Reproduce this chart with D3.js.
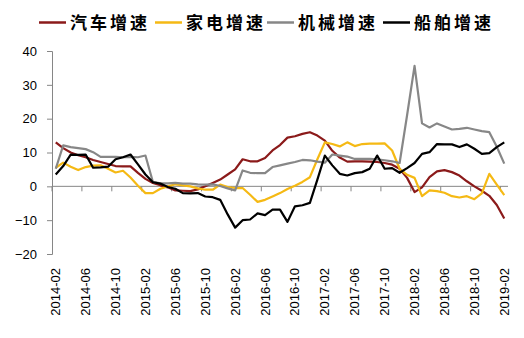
<!DOCTYPE html>
<html><head><meta charset="utf-8">
<script src="https://cdn.jsdelivr.net/npm/d3@7"></script>
<style>
html,body{margin:0;padding:0;background:#fff;}
svg{display:block;}
</style></head>
<body>
<svg id="chart" width="524" height="338"></svg>
<script>
const categories = [
"2014-02","2014-03","2014-04","2014-05","2014-06","2014-07","2014-08","2014-09","2014-10","2014-11","2014-12",
"2015-01","2015-02","2015-03","2015-04","2015-05","2015-06","2015-07","2015-08","2015-09","2015-10","2015-11","2015-12",
"2016-01","2016-02","2016-03","2016-04","2016-05","2016-06","2016-07","2016-08","2016-09","2016-10","2016-11","2016-12",
"2017-01","2017-02","2017-03","2017-04","2017-05","2017-06","2017-07","2017-08","2017-09","2017-10","2017-11","2017-12",
"2018-01","2018-02","2018-03","2018-04","2018-05","2018-06","2018-07","2018-08","2018-09","2018-10","2018-11","2018-12",
"2019-01","2019-02"];
const seriesNames = ["汽车增速","家电增速","机械增速","船舶增速"];
const seriesColors = ["#8B1A1A","#F5B914","#878787","#000000"];
const carGrowth = [13.0,11.3,10.0,9.2,8.6,7.8,7.2,6.6,6.0,5.9,5.9,4.0,2.2,1.0,0.3,-0.3,-1.2,-1.3,-1.4,-0.9,0.0,1.0,2.0,3.5,5.0,8.0,7.4,7.4,8.4,10.6,12.2,14.4,14.8,15.5,16.0,15.0,13.5,10.5,8.5,7.3,7.4,7.4,7.3,7.2,6.9,6.4,5.2,2.5,-1.7,-0.3,2.7,4.4,4.8,4.2,3.2,1.5,0.0,-1.3,-2.8,-5.5,-9.5];
const applianceGrowth = [5.5,7.0,5.8,4.8,5.7,6.1,6.2,5.2,4.1,4.6,2.6,0.2,-2.0,-2.0,-0.7,0.0,0.6,0.3,0.0,-0.6,-1.0,-1.0,0.5,-0.2,-0.5,-0.5,-2.5,-4.6,-4.0,-3.0,-2.0,-0.8,0.2,1.3,2.7,8.0,13.0,12.5,11.8,13.0,11.9,12.5,12.6,12.6,12.7,10.6,5.2,3.4,2.5,-2.9,-1.2,-1.4,-1.9,-2.9,-3.3,-2.9,-3.8,-2.1,3.7,0.5,-2.6];
const machineryGrowth = [5.2,12.1,11.6,11.3,11.0,10.1,8.7,8.7,8.7,8.6,8.7,8.6,9.1,1.3,0.9,0.9,1.0,0.8,0.8,0.6,0.5,0.6,0.1,-0.6,-1.2,4.7,4.0,3.9,3.9,5.7,6.2,6.7,7.2,7.8,7.7,7.3,7.0,9.4,9.1,8.8,8.1,8.1,8.1,8.0,7.7,7.4,6.9,21.0,35.6,18.6,17.4,18.6,17.7,16.8,17.0,17.3,16.8,16.3,16.0,11.7,6.7];
const shipGrowth = [3.5,6.0,9.4,9.3,9.4,5.5,5.6,5.8,8.0,8.6,9.4,6.5,3.5,1.2,0.8,-0.2,-0.7,-2.0,-2.1,-2.0,-3.0,-3.2,-4.0,-8.3,-12.2,-10.0,-9.8,-8.0,-8.5,-6.9,-6.9,-10.5,-5.9,-5.6,-4.9,2.0,9.1,6.2,3.7,3.2,3.9,4.2,5.2,9.1,5.2,5.4,4.0,5.4,6.9,9.6,10.1,12.5,12.4,12.4,11.6,12.4,11.1,9.6,9.8,11.6,13.0];
const yTicks = [-20,-10,0,10,20,30,40];
const xLabelEvery = 4;

const allSeries = [carGrowth, applianceGrowth, machineryGrowth, shipGrowth];
const svg = d3.select("#chart");
const axisColor = "#868686";
const fontFam = "'Liberation Sans', Arial, sans-serif";

const x = d3.scaleBand().domain(categories).range([52, 508]).padding(0);
const y = d3.scaleLinear().domain([-20, 40]).range([254, 51]);
const cx = c => x(c) + x.bandwidth() / 2;

// Y axis
const yAxis = d3.axisLeft(y).tickValues(yTicks).tickSize(5).tickPadding(10);
const gy = svg.append("g").attr("transform", "translate(52,0)").call(yAxis);
gy.select(".domain").attr("stroke", axisColor).attr("stroke-width", 1);
gy.selectAll(".tick line").attr("stroke", axisColor);
gy.selectAll(".tick text").attr("fill", "#000").style("font-family", fontFam).style("font-size", "13px");

// X axis at zero
const zeroY = y(0);
const gx = svg.append("g");
gx.append("line").attr("x1", x.range()[0]).attr("x2", x.range()[1]).attr("y1", zeroY).attr("y2", zeroY)
  .attr("stroke", axisColor).attr("stroke-width", 1);
const tickCats = categories.filter((c, i) => i % xLabelEvery === 0);
gx.selectAll("line.tk").data(tickCats).enter().append("line").attr("class", "tk")
  .attr("x1", d => x(d)).attr("x2", d => x(d)).attr("y1", zeroY).attr("y2", zeroY + 5)
  .attr("stroke", axisColor).attr("stroke-width", 1);
gx.selectAll("text").data(tickCats).enter().append("text")
  .attr("transform", d => `translate(${cx(d) + 4.5},268) rotate(-90)`)
  .attr("text-anchor", "end")
  .style("font-family", fontFam).style("font-size", "13px").attr("fill", "#000")
  .text(d => d);

// Lines
const line = d3.line().x((d, i) => cx(categories[i])).y(d => y(d));
allSeries.forEach((s, k) => {
  svg.append("path").datum(s).attr("d", line)
    .attr("fill", "none").attr("stroke", seriesColors[k]).attr("stroke-width", 2.2)
    .attr("stroke-linejoin", "round");
});

// Legend
const legendX = [39, 155, 267, 383];
const leg = svg.append("g");
seriesNames.forEach((n, k) => {
  leg.append("line").attr("x1", legendX[k]).attr("x2", legendX[k] + 27).attr("y1", 22.5).attr("y2", 22.5)
    .attr("stroke", seriesColors[k]).attr("stroke-width", 2.5);
  leg.append("text").attr("x", legendX[k] + 31).attr("y", 29)
    .style("font-family", "'Noto Sans CJK SC', sans-serif").style("font-size", "17px")
    .style("font-weight", "bold").style("letter-spacing", "3px").attr("fill", "#000").text(n);
});
</script>
</body></html>
